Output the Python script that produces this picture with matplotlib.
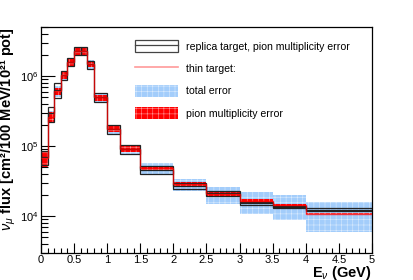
import matplotlib
matplotlib.use("Agg")
import matplotlib.pyplot as plt
import numpy as np
from matplotlib.patches import Rectangle
from matplotlib.lines import Line2D
from matplotlib.legend_handler import HandlerTuple
from matplotlib.ticker import MultipleLocator, LogLocator, NullFormatter

plt.rcParams['font.family'] = ['Liberation Sans', 'DejaVu Sans']
plt.rcParams['mathtext.fontset'] = 'custom'
plt.rcParams['mathtext.rm'] = 'Liberation Sans'
plt.rcParams['mathtext.it'] = 'Liberation Sans:italic'
plt.rcParams['mathtext.bf'] = 'Liberation Sans:bold'
plt.rcParams['hatch.linewidth'] = 0.4

# DATA
edges = [0, 0.1, 0.2, 0.3, 0.4, 0.5, 0.6, 0.7, 0.8, 1.0, 1.2, 1.5, 2.0, 2.5, 3.0, 3.5, 4.0, 5.0]

# thin target flux + relative errors
thin_flux = [6.7e4, 2.65e5, 6.1e5, 1.03e6, 1.58e6, 2.28e6, 2.28e6, 1.48e6, 4.97e5,
             1.75e5, 9.06e4, 4.83e4, 2.84e4, 2.06e4, 1.66e4, 1.45e4, 1.09e4]
pion_err = [0.25, 0.16, 0.115, 0.115, 0.115, 0.115, 0.115, 0.10, 0.10,
            0.10, 0.10, 0.095, 0.075, 0.065, 0.065, 0.04, 0.03]
total_err = [0.28, 0.20, 0.17, 0.15, 0.15, 0.16, 0.16, 0.14, 0.15,
             0.15, 0.15, 0.18, 0.19, 0.28, 0.35, 0.40, 0.45]

# replica target flux + pion multiplicity error
replica_flux = [6.9e4, 2.95e5, 6.4e5, 1.05e6, 1.61e6, 2.31e6, 2.31e6, 1.48e6, 4.97e5,
                1.74e5, 9.0e4, 4.58e4, 2.67e4, 2.11e4, 1.52e4, 1.35e4, 1.23e4]
replica_err = [0.23, 0.237, 0.23, 0.147, 0.137, 0.137, 0.137, 0.13, 0.14,
               0.137, 0.137, 0.12, 0.10, 0.08, 0.05, 0.03, 0.05]

edges = np.array(edges)
widths = np.diff(edges)
thin_flux = np.array(thin_flux)
replica_flux = np.array(replica_flux)
pion_err = np.array(pion_err)
total_err = np.array(total_err)
replica_err = np.array(replica_err)

fig = plt.figure(figsize=(4.14, 2.80), dpi=100)
ax = fig.add_axes([41/414, 1-252.7/280, 331/414, 225.4/280])

blue = '#a3cdfb'
# total error
ax.bar(edges[:-1], 2*thin_flux*total_err, width=widths, bottom=thin_flux*(1-total_err),
       align='edge', color=blue, edgecolor=(1, 1, 1, 0.6), linewidth=0, hatch='+++', zorder=1)
# pion multiplicity error
ax.bar(edges[:-1], 2*thin_flux*pion_err, width=widths, bottom=thin_flux*(1-pion_err),
       align='edge', color='red', edgecolor=(1, 1, 1, 0.6), linewidth=0, hatch='+++', zorder=2)
# replica target boxes
ax.bar(edges[:-1], 2*replica_flux*replica_err, width=widths, bottom=replica_flux*(1-replica_err),
       align='edge', fill=False, edgecolor='#222222', linewidth=0.9, zorder=3)
ax.stairs(replica_flux, edges, baseline=None, color='#222222', linewidth=0.9, zorder=3)
# thin target
ax.stairs(thin_flux, edges, baseline=None, color='red', linewidth=1.0, alpha=0.75, zorder=4)

ax.set_yscale('log')
ax.set_xlim(0, 5)
ax.set_ylim(3e3, 5e6)

ax.xaxis.set_major_locator(MultipleLocator(0.5))
ax.xaxis.set_minor_locator(MultipleLocator(0.1))
ax.set_xticks([0, 0.5, 1, 1.5, 2, 2.5, 3, 3.5, 4, 4.5, 5])
ax.set_xticklabels(['0', '0.5', '1', '1.5', '2', '2.5', '3', '3.5', '4', '4.5', '5'])
ax.yaxis.set_major_locator(LogLocator(base=10, numticks=10))
ax.yaxis.set_minor_locator(LogLocator(base=10, subs=np.arange(2, 10), numticks=20))
ax.yaxis.set_minor_formatter(NullFormatter())

ax.tick_params(axis='both', which='both', direction='in', top=False, right=False,
               labelsize=8, width=0.8)
ax.tick_params(axis='x', which='major', length=7, pad=1.5)
ax.tick_params(axis='x', which='minor', length=3.5)
ax.tick_params(axis='y', which='major', length=10, pad=2)
ax.tick_params(axis='y', which='minor', length=5)
for s in ax.spines.values():
    s.set_linewidth(0.9)

ax.set_xlabel(r'E$_{\nu}$ (GeV)', fontsize=10.5, fontweight='bold', loc='right')
ax.xaxis.set_label_coords(1.0, -10.8/225.4)
ax.set_ylabel('$\\nu_{\\mu}$ flux [cm\u00b2/100 MeV/10\u00b2\u00b9 pot]', fontsize=10.5,
              fontweight='bold', loc='top')
ax.yaxis.set_label_coords(-22.5/331, 1.0)

# legend
h_rep = (Rectangle((0, 0), 1, 1, facecolor='none', edgecolor='#444444', linewidth=0.9),
         Line2D([], [], color='#444444', linewidth=0.9))
h_thin = Line2D([], [], color='#ff9999', linewidth=1.2)
h_tot = Rectangle((0, 0), 1, 1, facecolor=blue, edgecolor=(1, 1, 1, 0.6), linewidth=0, hatch='+++')
h_pion = Rectangle((0, 0), 1, 1, facecolor='red', edgecolor=(1, 1, 1, 0.6), linewidth=0, hatch='+++')
fig.legend([h_rep, h_thin, h_tot, h_pion],
           ['replica target, pion multiplicity error', 'thin target:', 'total error',
            'pion multiplicity error'],
           handler_map={tuple: HandlerTuple(ndivide=1, pad=0)},
           loc='upper left', bbox_to_anchor=(135/414, 1-40/280), frameon=False,
           fontsize=7.6, handlelength=4.07, handleheight=1.42, labelspacing=0.95,
           handletextpad=0.8, borderpad=0, borderaxespad=0)

fig.savefig('out.png', dpi=100)
